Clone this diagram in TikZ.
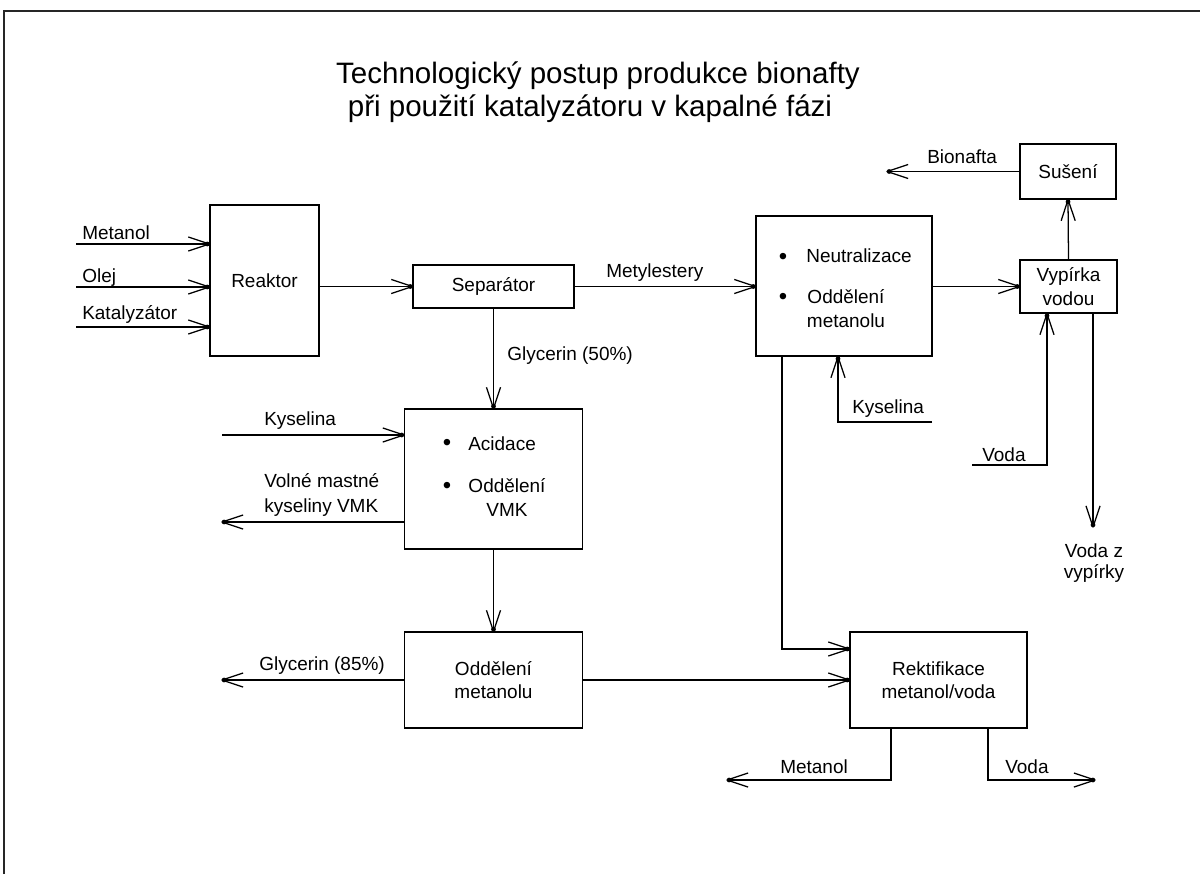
\documentclass[tikz,border=0pt]{standalone}
\usepackage{fontspec}
\setmainfont{Liberation Sans}
\usetikzlibrary{calc}

% open barb with a small dot at the tip
\pgfdeclarearrow{
  name = BarbDot,
  setup code = {
    \pgfarrowssettipend{0pt}
    \pgfarrowssetlineend{-1.2pt}
    \pgfarrowssetbackend{-15pt}
    \pgfarrowshullpoint{0pt}{0pt}
    \pgfarrowsupperhullpoint{-15pt}{5pt}
  },
  drawing code = {
    \pgfsetdash{}{0pt}
    \pgfsetroundjoin
    \pgfpathmoveto{\pgfqpoint{-15pt}{5pt}}
    \pgfpathlineto{\pgfqpoint{0pt}{0pt}}
    \pgfpathlineto{\pgfqpoint{-15pt}{-5pt}}
    \pgfusepathqstroke
    \pgfpathcircle{\pgfqpoint{-1.5pt}{0pt}}{1.7pt}
    \pgfusepathqfill
  }
}

\begin{document}
\begin{tikzpicture}[x=0.025cm,y=-0.025cm,
  every node/.style={font=\fontsize{13.5}{17}\selectfont, inner sep=0pt},
  box/.style={draw, line width=0.9pt, align=center},
  flow/.style={line width=0.9pt, -BarbDot},
  lbl/.style={anchor=base west},
  ctr/.style={anchor=base, align=center},
  bul/.style={font=\fontsize{17}{19}\selectfont},
  titletext/.style={font=\fontsize{21}{25}\selectfont, anchor=base},
  frame/.style={line width=1.4pt, draw=black!85}]
\useasboundingbox (0,0) rectangle (1200,874);

% page frame (top and left edges)
\coordinate (fb) at (4,874);
\coordinate (fc) at (4,11);
\coordinate (fr) at (1200,11);
\draw[frame] (fb) -- (fc) -- (fr);

% title
\node[titletext] (t1) at (598,83) {Technologický postup produkce bionafty};
\node[titletext] (t2) at (590,116) {při použití katalyzátoru v kapalné fázi};

% process blocks
\node[box, minimum width=2.725cm, minimum height=3.775cm] (reak) at (264.5,280.5) {Reaktor};
\node[box, minimum width=4.025cm, minimum height=1.075cm] (sep) at (493.5,286.5) {Separátor};
\node[box, minimum width=4.4cm, minimum height=3.5cm] (neu) at (844,286) {};
\node[box, minimum width=2.425cm, minimum height=1.325cm, font=\fontsize{13.5}{16.5}\selectfont] (vyp) at (1068.5,286.5) {Vypírka\\vodou};
\node[box, minimum width=2.4cm, minimum height=1.375cm] (sus) at (1068,171.5) {Sušení};
\node[box, minimum width=4.45cm, minimum height=3.5cm] (aci) at (493.5,479) {};
\node[box, minimum width=4.45cm, minimum height=2.4cm, font=\fontsize{13.5}{16.5}\selectfont] (odm) at (493.5,680) {Oddělení\\metanolu};
\node[box, minimum width=4.425cm, minimum height=2.4cm, font=\fontsize{13.5}{16.5}\selectfont] (rek) at (938.5,680) {Rektifikace\\metanol/voda};

% contents of the neutralisation block (base anchor = last line)
\node[bul] (nb1) at (783,259) {•};
\node[lbl] (nt1) at (806,262) {Neutralizace};
\node[bul] (nb2) at (783,299) {•};
\node[ctr] (nt2) at (846,327) {Oddělení\\metanolu};

% contents of the acidification block
\node[bul] (ab1) at (447,445) {•};
\node[lbl] (at1) at (468,450) {Acidace};
\node[bul] (ab2) at (447,488) {•};
\node[ctr] (at2) at (507,516) {Oddělení\\VMK};

% feed streams into the reactor
\coordinate (iM) at (76,244);
\coordinate (iO) at (76,287);
\coordinate (iK) at (76,327);
\draw[flow] (iM) -- (iM -| reak.west);
\draw[flow] (iO) -- (iO -| reak.west);
\draw[flow] (iK) -- (iK -| reak.west);
\node[lbl] (lM) at (82,239) {Metanol};
\node[lbl] (lO) at (82,282) {Olej};
\node[lbl] (lK) at (82,319) {Katalyzátor};

% main line
\draw[flow] (reak.east |- sep.west) -- (sep.west);
\draw[flow] (sep.east) -- (sep.east -| neu.west);
\node[lbl] (lMe) at (606,277) {Metylestery};
\draw[flow] (neu.east |- vyp.west) -- (vyp.west);
\draw[flow] (vyp.north) -- (sus.south);
\coordinate (bio) at (887,171.5);
\draw[flow] (sus.west) -- (bio);
\node[lbl] (lB) at (927,163) {Bionafta};

% acid into neutralisation
\coordinate (kysN) at (932,422);
\coordinate (kysNc) at (838,422);
\draw[flow] (kysN) -- (kysNc) -- (kysNc |- neu.south);
\node[lbl] (lKn) at (852,413) {Kyselina};

% wash water
\coordinate (vodaIn) at (972,465);
\coordinate (vodaInC) at (1047,465);
\draw[flow] (vodaIn) -- (vodaInC) -- (vodaInC |- vyp.south);
\node[lbl] (lV) at (982,461) {Voda};
\coordinate (vodaOut) at (1093,527);
\draw[flow] (vodaOut |- vyp.south) -- (vodaOut);
\node[anchor=base] (lVz1) at (1094,557) {Voda z};
\node[anchor=base] (lVz2) at (1094,578) {vypírky};

% methanol from neutralisation to rectification
\coordinate (nr) at (782,649);
\draw[flow] (nr |- neu.south) -- (nr) -- (nr -| rek.west);

% glycerol branch
\draw[flow] (sep.south) -- (sep.south |- aci.north);
\node[lbl] (lG5) at (507,360) {Glycerin (50\%)};
\coordinate (kysA) at (222,435);
\draw[flow] (kysA) -- (kysA -| aci.west);
\node[lbl] (lKa) at (264,425) {Kyselina};
\coordinate (vmk) at (222,522);
\draw[flow] (vmk -| aci.west) -- (vmk);
\node[lbl] (lVm1) at (264,487) {Volné mastné};
\node[lbl] (lVm2) at (264,512) {kyseliny VMK};
\draw[flow] (aci.south) -- (odm.north);
\coordinate (gly) at (222,680);
\draw[flow] (odm.west) -- (gly);
\node[lbl] (lG8) at (259,670) {Glycerin (85\%)};
\draw[flow] (odm.east) -- (rek.west);

% rectification products
\coordinate (met) at (727,780);
\coordinate (metC) at (891,780);
\draw[flow] (metC |- rek.south) -- (metC) -- (met);
\node[lbl] (lMo) at (780,773) {Metanol};
\coordinate (vod) at (1095,780);
\coordinate (vodC) at (988,780);
\draw[flow] (vodC |- rek.south) -- (vodC) -- (vod);
\node[lbl] (lVo) at (1005,773) {Voda};
\end{tikzpicture}
\end{document}
